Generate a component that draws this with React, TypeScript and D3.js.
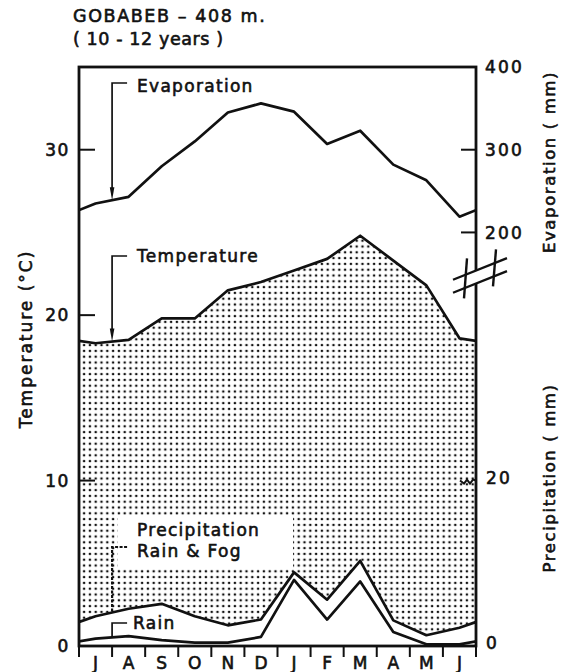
import React from "react";
import * as d3 from "d3";

// Monthly climate normals, July through June
const months = ["J", "A", "S", "O", "N", "D", "J", "F", "M", "A", "M", "J"];
const temperature = [18.3, 18.5, 19.8, 19.8, 21.5, 22.0, 22.7, 23.4, 24.8, 23.3, 21.8, 18.6];
const evaporation = [235, 243, 280, 310, 345, 356, 346, 307, 323, 282, 263, 219];
const rainFog = [3.6, 4.5, 5.1, 3.6, 2.5, 3.2, 8.9, 5.6, 10.3, 3.1, 1.3, 2.2];
const rain = [0.9, 1.2, 0.7, 0.4, 0.4, 1.1, 8.0, 3.2, 7.8, 1.7, 0.2, 0.2];

const tempTicks = [0, 10, 20, 30];
const evapTicks = [200, 300, 400];
const precipTicks = [0, 20];

const W = 561;
const H = 672;
const L = 79;
const R = 476;
const T = 67;
const B = 646;

const x = d3.scaleLinear().domain([0, 12]).range([L, R]);
const yT = d3.scaleLinear().domain([0, 35]).range([B, T]);
const yE = d3.scaleLinear().domain([200, 400]).range([yT(25), yT(35)]);
const yP = d3.scaleLinear().domain([0, 20]).range([yT(0), yT(10)]);

type Pt = { m: number; v: number };

// Cyclic series: the year wraps, so June precedes July at the left edge
function wrap(values: number[]): Pt[] {
  const out: Pt[] = [];
  for (let i = -1; i <= 12; i++) out.push({ m: i + 0.5, v: values[(i + 12) % 12] });
  return out;
}

// Value on the polyline at a month boundary
function atBoundary(values: number[], k: number) {
  return (values[(k - 1 + 12) % 12] + values[k % 12]) / 2;
}

const font = "'DejaVu Sans', sans-serif";
const ink = "#111";

function Label(props: any) {
  const { children, ...rest } = props;
  return (
    <text
      fontFamily={font}
      fill={ink}
      stroke={ink}
      strokeWidth={0.6}
      letterSpacing={1.4}
      {...rest}
    >
      {children}
    </text>
  );
}

function Bracket({ topY, tipY, withArrow, dashed }: any) {
  const bx = x(1);
  return (
    <g>
      <path
        d={`M${bx + 15},${topY} H${bx} V${withArrow ? tipY - 10 : tipY}`}
        fill="none"
        stroke={ink}
        strokeWidth={dashed ? 2.2 : 1.7}
        strokeDasharray={dashed ? "3,1.5" : undefined}
      />
      {withArrow && (
        <path d={`M${bx - 2.3},${tipY - 13} L${bx + 2.3},${tipY - 13} L${bx},${tipY} Z`} fill={ink} />
      )}
    </g>
  );
}

export default function App() {
  const lineT = d3.line<Pt>().x((d) => x(d.m)).y((d) => yT(d.v));
  const lineE = d3.line<Pt>().x((d) => x(d.m)).y((d) => yE(d.v));
  const lineP = d3.line<Pt>().x((d) => x(d.m)).y((d) => yP(d.v));
  const areaT = d3.area<Pt>().x((d) => x(d.m)).y0(B).y1((d) => yT(d.v));
  const areaP = d3.area<Pt>().x((d) => x(d.m)).y0(B).y1((d) => yP(d.v));

  const tData = wrap(temperature);
  const eData = wrap(evaporation);
  const rfData = wrap(rainFog);
  const rData = wrap(rain);

  // axis break on the right-hand side
  const bx = R + 4;
  const by = yT(22.4);
  const s = -0.4;
  const d1 = (dx: number) => by - 6.5 + s * dx;
  const d2 = (dx: number) => by + 6.5 + s * dx;

  return (
    <svg width={W} height={H} style={{ position: "absolute", left: 0, top: 0, background: "#fff" }}>
      <defs>
        <pattern id="stipple" width={5.8} height={5.8} patternUnits="userSpaceOnUse">
          <circle cx={2.9} cy={2.9} r={1.3} fill={ink} />
        </pattern>
        <clipPath id="frame">
          <rect x={L} y={T} width={R - L} height={B - T} />
        </clipPath>
      </defs>

      {/* title */}
      <Label x={73} y={22} fontSize={17.5} letterSpacing={1.6}>GOBABEB – 408 m.</Label>
      <Label x={73} y={45} fontSize={17.5} letterSpacing={0.6}>( 10 - 12 years )</Label>

      <g clipPath="url(#frame)">
        <path d={areaT(tData) || ""} fill="url(#stipple)" />
        <path d={areaP(rfData) || ""} fill="#fff" />
        <rect x={118} y={515} width={175} height={54} fill="#fff" />
        <path d={lineE(eData) || ""} fill="none" stroke={ink} strokeWidth={2.7} strokeLinejoin="round" />
        <path d={lineT(tData) || ""} fill="none" stroke={ink} strokeWidth={2.7} strokeLinejoin="round" />
        <path d={lineP(rfData) || ""} fill="none" stroke={ink} strokeWidth={2.7} strokeLinejoin="round" />
        <path d={lineP(rData) || ""} fill="none" stroke={ink} strokeWidth={2.7} strokeLinejoin="round" />
      </g>

      {/* frame */}
      <rect x={L} y={T} width={R - L} height={B - T} fill="none" stroke={ink} strokeWidth={2.8} />

      {/* month ticks and labels */}
      {d3.range(13).map((k) => (
        <line key={`mt${k}`} x1={x(k)} x2={x(k)} y1={B} y2={B + 11} stroke={ink} strokeWidth={2} />
      ))}
      {months.map((m, i) => (
        <Label key={`ml${i}`} x={x(i + 0.5)} y={669} fontSize={17} textAnchor="middle" letterSpacing={0}>
          {m}
        </Label>
      ))}

      {/* left axis: temperature */}
      {tempTicks.map((t) => (
        <g key={`tt${t}`}>
          {t > 0 && <line x1={L} x2={L + 16} y1={yT(t)} y2={yT(t)} stroke={ink} strokeWidth={2} />}
          <Label x={70} y={yT(t)} dy="0.36em" fontSize={17} textAnchor="end" letterSpacing={1.6}>
            {t}
          </Label>
        </g>
      ))}
      <Label
        transform={`translate(32,${339}) rotate(-90)`}
        fontSize={17}
        textAnchor="middle"
        letterSpacing={2}
      >
        Temperature (°C)
      </Label>

      {/* right axis: evaporation */}
      {evapTicks.map((e) => (
        <g key={`et${e}`}>
          {e < 400 && <line x1={R - 15} x2={R} y1={yE(e)} y2={yE(e)} stroke={ink} strokeWidth={2} />}
          <Label x={485} y={yE(e)} dy="0.36em" fontSize={17} letterSpacing={2.2}>
            {e}
          </Label>
        </g>
      ))}
      <Label
        transform={`translate(555,${162}) rotate(-90)`}
        fontSize={16.5}
        textAnchor="middle"
        letterSpacing={1.6}
      >
        Evaporation ( mm)
      </Label>

      {/* right axis: precipitation */}
      {precipTicks.map((p) => (
        <g key={`pt${p}`}>
          {p > 0 && (
            <path
              d={`M${R - 16},${yP(p)} L${R - 12},${yP(p) + 3} L${R - 9},${yP(p) - 1} L${R - 6},${yP(p) + 3} L${R - 3},${yP(p) - 1} L${R},${yP(p)}`}
              fill="none"
              stroke={ink}
              strokeWidth={2}
            />
          )}
          <Label x={486} y={yP(p) - 3} dy="0.36em" fontSize={17} letterSpacing={2.2}>
            {p}
          </Label>
        </g>
      ))}
      <Label
        transform={`translate(555,${478}) rotate(-90)`}
        fontSize={16.5}
        textAnchor="middle"
        letterSpacing={1.6}
      >
        Precipitation ( mm)
      </Label>

      {/* axis break */}
      <path
        d={`M${bx - 18},${d1(-18)} L${bx + 18},${d1(18)} L${bx + 18},${d2(18)} L${bx - 18},${d2(-18)} Z`}
        fill="#fff"
      />
      <line x1={bx - 27} y1={d1(-27)} x2={bx + 27} y2={d1(27)} stroke={ink} strokeWidth={2.4} />
      <line x1={bx - 27} y1={d2(-27)} x2={bx + 27} y2={d2(27)} stroke={ink} strokeWidth={2.4} />
      <line x1={bx - 13} y1={by - 17} x2={bx - 16} y2={by + 23} stroke={ink} strokeWidth={2.4} />
      <line x1={bx + 16} y1={by - 26} x2={bx + 13} y2={by + 11} stroke={ink} strokeWidth={2.4} />

      {/* annotations */}
      <Bracket topY={83} tipY={yE(atBoundary(evaporation, 1))} withArrow />
      <Label x={137} y={92} fontSize={17} letterSpacing={1.3}>Evaporation</Label>

      <Bracket topY={256} tipY={yT(atBoundary(temperature, 1))} withArrow />
      <Label x={137} y={262} fontSize={17} letterSpacing={1.3}>Temperature</Label>

      <Label x={137} y={536} fontSize={17} letterSpacing={1.3}>Precipitation</Label>
      <Bracket topY={547} tipY={yP(atBoundary(rainFog, 1))} dashed />
      <Label x={137} y={557} fontSize={17} letterSpacing={1.3}>Rain &amp; Fog</Label>

      <Bracket topY={623} tipY={yP(atBoundary(rain, 1))} />
      <Label x={133} y={629} fontSize={17} letterSpacing={1.3}>Rain</Label>
    </svg>
  );
}
